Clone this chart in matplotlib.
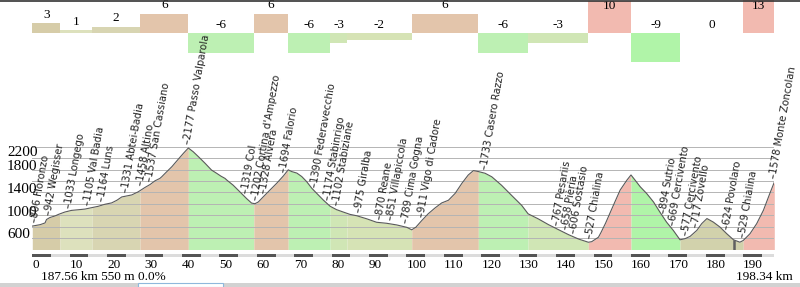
import matplotlib.pyplot as plt
import matplotlib.patches as mpatches
from matplotlib.lines import Line2D
import numpy as np

# elevation profile (km, m)
prof_km = [0.0, 2.1, 3.4, 3.8, 4.7, 6.1, 7.0, 8.7, 10.5, 12.3, 14.1, 15.9, 17.6, 19.4,
           21.2, 22.6, 23.9, 24.8, 26.6, 28.3, 30.1, 31.5, 32.8, 34.1, 34.6, 35.5, 37.3,
           39.0, 40.4, 41.7, 43.0, 44.4, 46.2, 47.9, 49.3, 50.4, 51.5, 52.0, 53.7, 55.5,
           57.3, 58.6, 59.5, 60.4, 61.7, 63.5, 65.3, 67.1, 68.4, 69.3, 70.7, 72.0, 73.3,
           74.7, 76.0, 77.8, 79.6, 81.3, 83.1, 84.9, 86.7, 89.4, 92.0, 94.7, 97.4, 100.1,
           101.4, 102.5, 104.1, 105.8, 107.6, 109.4, 111.2, 113.0, 114.8, 116.5, 117.9,
           119.2, 121.0, 122.8, 125.4, 128.1, 130.8, 132.5, 135.2, 137.9, 140.6, 143.3,
           146.0, 148.6, 149.5, 151.3, 152.0, 153.2, 155.0, 157.1, 158.9, 160.0, 161.1,
           162.5, 164.2, 166.0, 167.7, 169.5, 171.3, 173.1, 174.4, 175.8, 177.6, 178.9,
           180.3, 182.0, 183.8, 185.6, 187.4, 189.1, 190.0, 191.8, 193.6, 195.4, 197.1,
           198.3]
prof_m = [810, 835, 865, 925, 960, 988, 1015, 1056, 1085, 1096, 1108, 1133, 1156, 1192,
          1216, 1262, 1320, 1332, 1356, 1410, 1486, 1539, 1603, 1645, 1674, 1734, 1850,
          1980, 2085, 2177, 2112, 2025, 1908, 1791, 1733, 1685, 1645, 1615, 1525, 1408,
          1290, 1213, 1202, 1232, 1320, 1440, 1558, 1688, 1795, 1765, 1738, 1678, 1590,
          1472, 1384, 1264, 1157, 1098, 1056, 1015, 991, 937, 877, 859, 830, 788,
          745, 790, 908, 1025, 1126, 1215, 1262, 1382, 1558, 1704, 1782,
          1765, 1735, 1673, 1525, 1347, 1172, 1025, 937, 837, 748, 660,
          583, 527, 537, 615, 700, 860, 1130, 1440, 1614, 1705, 1614,
          1496, 1380, 1234, 1058, 880, 735, 570, 588, 630, 735, 853,
          942, 880, 792, 676, 570, 528, 558, 676, 853, 1088, 1380,
          1578]

# gradient segments
seg_start = [0.0, 7.4, 16.0, 28.8, 41.7, 59.2, 68.4, 79.6, 84.1, 101.4, 119.2, 132.5,
             148.6, 160.0, 173.1, 190.0]
seg_end = seg_start[1:] + [198.3]
seg_grade = [3, 1, 2, 6, -6, 6, -6, -3, -2, 6, -6, -3, 10, -9, 0, 13]
seg_color = ['#d6cca8', '#dde1bd', '#d8d5b2', '#e3c5ab', '#bdf0b3', '#e3c5ab', '#bdf0b3',
             '#d0e6b5', '#d6e3b5', '#e3c5ab', '#bdf0b3', '#d0e6b5', '#f2bab0', '#b0f4a8',
             '#d2d2ac', '#f2bab0']

# waypoints
wp_km = [0.5, 4.1, 9.5, 14.5, 18.5, 24.8, 28.8, 31.2, 41.4, 56.8, 59.5, 61.7, 67.1, 75.4,
         78.7, 81.3, 87.1, 92.7, 95.6, 99.6, 103.9, 120.8, 140.1, 142.5, 144.6, 148.8,
         168.6, 171.1, 174.4, 177.1, 185.4, 189.6, 198.0]
wp_m = [806, 942, 1033, 1105, 1164, 1331, 1458, 1537, 2177, 1319, 1202, 1328, 1694, 1390,
        1174, 1102, 975, 870, 851, 789, 911, 1733, 767, 658, 606, 527,
        894, 669, 577, 717, 624, 529, 1578]
wp_name = ['Fioronzo', 'Wegisser', 'Longego', 'Val Badia', 'Luns', 'Abtei-Badia', 'Altino',
           'San Cassiano', 'Passo Valparola', 'Col', "Cortina d'Ampezzo", 'Alvera', 'Falorio',
           'Federavecchio', 'Stabinrigo', 'Stabiziane', 'Giralba', 'Reane', 'Villapiccola',
           'Cima Gogna', 'Vigo di Cadore', 'Casero Razzo', 'Pesariis', 'Pièria', 'Sostasio',
           'Chialina', 'Sutrio', 'Cercivento', 'Cercivento', 'Zovello', 'Povolaro', 'Chialina',
           'Monte Zoncolan']

x_ticks = [0, 10, 20, 30, 40, 50, 60, 70, 80, 90, 100, 110, 120, 130, 140, 150, 160, 170, 180, 190]
y_ticks = [600, 1000, 1400, 1800, 2200]
cursor_km, cursor_m = 187.56, 550

serif = 'Liberation Serif'
W, H = 800, 287
fig = plt.figure(figsize=(8, 2.87), dpi=100)
fig.patch.set_facecolor('white')

# ---- gradient bars (drawn below the profile so labels sit on top)
gax = fig.add_axes([32.3 / W, (H - 65) / H, 742 / W, 65 / H])
gax.set_zorder(0)
gax.set_xlim(0, 198.3)
gax.set_ylim(-(65 - 33) / 3.25, 33 / 3.25)
gax.axis('off')
widths = [b - a for a, b in zip(seg_start, seg_end)]
gax.bar(seg_start, seg_grade, width=widths, align='edge', color=seg_color, lw=0)
for a, b, g in zip(seg_start, seg_end, seg_grade):
    cx = (a + b) / 2
    if g > 8:
        gax.text(cx, 33 / 3.25, str(g), ha='center', va='top', fontfamily=serif, fontsize=9.5)
    elif g > 0:
        gax.annotate(str(g), (cx, g), xytext=(0, 1.5), textcoords='offset points',
                     ha='center', va='bottom', fontfamily=serif, fontsize=9.5)
    else:
        gax.text(cx, 2.5, str(g), ha='center', va='center', fontfamily=serif, fontsize=9.5)

# ---- profile
ax = fig.add_axes([32.3 / W, (H - 249.5) / H, 742 / W, (249.5 - 146.7) / H])
ax.set_zorder(1)
ax.patch.set_alpha(0)
ax.set_xlim(0, 198.3)
ax.set_ylim(400, 2200)
km = np.array(prof_km)
m = np.array(prof_m)
for a, b, c in zip(seg_start, seg_end, seg_color):
    inside = (km > a) & (km < b)
    xs = np.concatenate([[a], km[inside], [b]])
    ys = np.concatenate([[np.interp(a, km, m)], m[inside], [np.interp(b, km, m)]])
    ax.fill_between(xs, 400, ys, color=c, lw=0, zorder=1)
ax.plot(km, m, color='#5a5a5a', lw=0.8, zorder=3)
for g in range(400, 2201, 200):
    ax.axhline(g, color='#b4b4b4', lw=0.7, zorder=2)
ax.plot([cursor_km, cursor_km], [400, cursor_m], color='#606060', lw=1.8, zorder=4)

for spine in ax.spines.values():
    spine.set_visible(False)
ax.set_xticks(x_ticks)
ax.set_xticklabels([str(t) for t in x_ticks], fontfamily=serif, fontsize=9.5, ha='left')
ax.tick_params(axis='x', length=0, pad=7)
ax.set_yticks([])
for t in y_ticks:
    ax.text(-0.034, min(t + 55, 2090), str(t), transform=ax.get_yaxis_transform(),
            ha='left', va='center', fontfamily=serif, fontsize=11, zorder=5, clip_on=False)

# scale bar under the profile
tr = ax.get_xaxis_transform()
for i, s in enumerate(np.arange(0, 198.3, 5)):
    ax.add_patch(mpatches.Rectangle((s, -0.073), min(5, 198.3 - s), 0.028, transform=tr,
                                    facecolor='#555555' if i % 2 == 0 else '#dcdcdc',
                                    edgecolor='none', clip_on=False))

# waypoint labels
for k, e, n in zip(wp_km, wp_m, wp_name):
    base = max(e, np.interp(k, km, m))
    ax.annotate('–%d %s' % (e, n), (k, base), xytext=(0, 2.5), textcoords='offset points',
                rotation=80, rotation_mode='anchor', ha='left', va='center',
                fontsize=7.2, color='#222222', annotation_clip=False, zorder=6)

# ---- bottom texts and frame bits
fig.text(41 / W, 1 - 277 / H, '%.2f km %d m 0.0%%' % (cursor_km, cursor_m),
         fontfamily=serif, fontsize=9.5, ha='left', va='center')
fig.text(793 / W, 1 - 277 / H, '198.34 km', fontfamily=serif, fontsize=9.5,
         ha='right', va='center')
fig.add_artist(mpatches.Rectangle((0, 0), 1, 4.5 / H, transform=fig.transFigure,
                                  facecolor='#d2d2d2', edgecolor='none'))
fig.add_artist(mpatches.Rectangle((138 / W, 0), 85 / W, 4 / H, transform=fig.transFigure,
                                  facecolor='white', edgecolor='#8fb8dc', lw=0.8))
fig.add_artist(Line2D([0, 1], [1 - 0.6 / H, 1 - 0.6 / H], transform=fig.transFigure,
                      color='#333333', lw=1.2))

fig.savefig('out.png', dpi=100)
